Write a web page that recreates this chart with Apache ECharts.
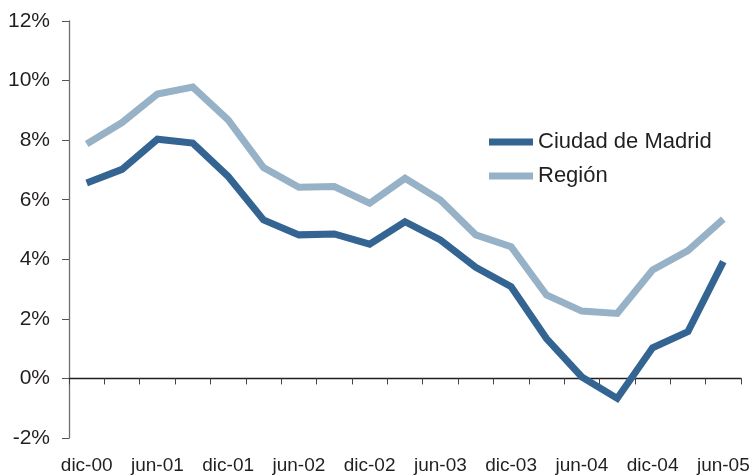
<!DOCTYPE html>
<html>
<head>
<meta charset="utf-8">
<script src="https://cdn.jsdelivr.net/npm/echarts@6/dist/echarts.min.js"></script>
<style>
html, body { margin: 0; padding: 0; background: #fff; }
#chart { width: 750px; height: 475px; }
</style>
</head>
<body>
<div id="chart"></div>
<script>
// trimestres dic-00 .. jun-05
var categories = ['dic-00', 'mar-01', 'jun-01', 'sep-01', 'dic-01', 'mar-02', 'jun-02', 'sep-02', 'dic-02',
    'mar-03', 'jun-03', 'sep-03', 'dic-03', 'mar-04', 'jun-04', 'sep-04', 'dic-04', 'mar-05', 'jun-05'];

var ciudadMadrid = [6.56, 7.02, 8.03, 7.9, 6.78, 5.32, 4.82, 4.85, 4.51,
    5.26, 4.65, 3.73, 3.08, 1.34, 0.05, -0.67, 1.03, 1.57, 3.92];

var region = [7.87, 8.59, 9.55, 9.78, 8.68, 7.08, 6.42, 6.44, 5.88,
    6.72, 5.99, 4.82, 4.42, 2.8, 2.26, 2.18, 3.64, 4.29, 5.35];

var yTicks = { min: -2, max: 12, step: 2 };

var txt = '#231f20';
var font = 'Liberation Sans';

var myChart = echarts.init(document.getElementById('chart'));

var option = {
    animation: false,
    textStyle: { fontFamily: font, color: txt },
    grid: { left: 69, right: 9, top: 21, bottom: 37, containLabel: false, outerBoundsMode: 'none' },
    legend: {
        orient: 'vertical',
        left: 484,
        top: 125,
        itemWidth: 44,
        itemHeight: 7,
        itemGap: 10,
        icon: 'rect',
        textStyle: { fontFamily: font, fontSize: 22, color: txt, lineHeight: 24 },
        data: ['Ciudad de Madrid', 'Región']
    },
    xAxis: [
        {
            type: 'category',
            data: categories,
            boundaryGap: true,
            axisLine: { onZero: true, lineStyle: { color: '#231f20', width: 1.3 } },
            axisTick: { show: true, interval: 0, length: 6, lineStyle: { color: '#444' } },
            axisLabel: { show: false }
        },
        {
            // solo etiquetas, al pie del gráfico
            type: 'category',
            data: categories,
            position: 'bottom',
            boundaryGap: true,
            axisLine: { show: false, onZero: false },
            axisTick: { show: false },
            axisLabel: { interval: 1, margin: 18, fontSize: 19, color: txt, fontFamily: font }
        }
    ],
    yAxis: {
        type: 'value',
        min: yTicks.min,
        max: yTicks.max,
        interval: yTicks.step,
        splitLine: { show: false },
        axisLine: { show: true, lineStyle: { color: '#6e6e6e', width: 1.3 } },
        axisTick: { show: true, length: 7, lineStyle: { color: '#555' } },
        axisLabel: { formatter: '{value}%', margin: 19, fontSize: 21, color: txt, fontFamily: font }
    },
    series: [
        {
            name: 'Ciudad de Madrid',
            type: 'line',
            data: ciudadMadrid,
            symbol: 'none',
            itemStyle: { color: '#346592' },
            lineStyle: { width: 7, color: '#346592', join: 'miter' },
            z: 3
        },
        {
            name: 'Región',
            type: 'line',
            data: region,
            symbol: 'none',
            itemStyle: { color: '#97b2c6' },
            lineStyle: { width: 7, color: '#97b2c6', join: 'miter' },
            z: 2
        }
    ]
};

myChart.setOption(option);
</script>
</body>
</html>
